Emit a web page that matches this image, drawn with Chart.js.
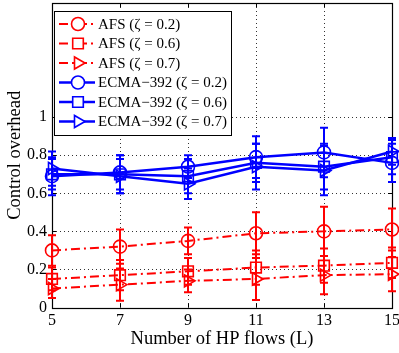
<!DOCTYPE html>
<html>
<head>
<meta charset="utf-8">
<script src="https://cdn.jsdelivr.net/npm/chart.js@4.4.1/dist/chart.umd.min.js"></script>
<style>
  html, body { margin: 0; padding: 0; background: #fff; }
  #wrap { width: 399px; height: 353px; }
</style>
</head>
<body>
<div id="wrap"><canvas id="grafico"></canvas></div>
<script>
const xs = [5, 7, 9, 11, 13, 15]
const yTicks = [0, 0.2, 0.4, 0.6, 0.8, 1]

// valores medios
const afs02 = [0.30, 0.32, 0.35, 0.39, 0.40, 0.41]
const afs06 = [0.15, 0.17, 0.19, 0.21, 0.22, 0.235]
const afs07 = [0.10, 0.12, 0.14, 0.15, 0.17, 0.175]
const ecma02 = [0.69, 0.71, 0.74, 0.79, 0.815, 0.76]
const ecma06 = [0.70, 0.70, 0.69, 0.76, 0.74, 0.79]
const ecma07 = [0.73, 0.69, 0.65, 0.74, 0.72, 0.82]

// meia largura das barras de erro
const afs02Err = [0.08, 0.09, 0.07, 0.11, 0.13, 0.11]
const afs06Err = [0.06, 0.08, 0.07, 0.09, 0.09, 0.08]
const afs07Err = [0.05, 0.085, 0.06, 0.11, 0.10, 0.09]
const ecma02Err = [0.10, 0.09, 0.06, 0.11, 0.13, 0.10]
const ecma06Err = [0.08, 0.10, 0.09, 0.10, 0.12, 0.09]
const ecma07Err = [0.09, 0.09, 0.08, 0.12, 0.13, 0.07]

const labels = ['AFS (ζ = 0.2)', 'AFS (ζ = 0.6)', 'AFS (ζ = 0.7)',
  'ECMA\u2212392 (ζ = 0.2)', 'ECMA\u2212392 (ζ = 0.6)', 'ECMA\u2212392 (ζ = 0.7)']

const RED = '#ff0000'
const BLUE = '#0000ff'
const FONT = '"Liberation Serif", "DejaVu Serif", serif'
const dashDot = [9, 4, 2, 4]

function serie(label, vals, errs, color, shape, radius, dash) {
  return {
    label: label,
    data: xs.map((x, i) => ({ x: x, y: vals[i] })),
    errs: errs,
    borderColor: color,
    backgroundColor: 'rgba(0,0,0,0)',
    borderWidth: dash ? 2 : 2.5,
    borderDash: dash || [],
    pointStyle: shape,
    pointRotation: shape === 'triangle' ? 90 : 0,
    pointRadius: radius,
    pointBorderWidth: 1.6,
    pointBorderColor: color,
    pointBackgroundColor: 'rgba(0,0,0,0)',
    tension: 0,
    clip: false
  }
}

const datasets = [
  serie(labels[0], afs02, afs02Err, RED, 'circle', 6.5, dashDot),
  serie(labels[1], afs06, afs06Err, RED, 'rect', 7.5, dashDot),
  serie(labels[2], afs07, afs07Err, RED, 'triangle', 7, dashDot),
  serie(labels[3], ecma02, ecma02Err, BLUE, 'circle', 6.5, null),
  serie(labels[4], ecma06, ecma06Err, BLUE, 'rect', 7.5, null),
  serie(labels[5], ecma07, ecma07Err, BLUE, 'triangle', 7, null)
]

// grade pontilhada, moldura e ticks internos (estilo MATLAB)
const moldura = {
  id: 'moldura',
  beforeDatasetsDraw(chart) {
    const { ctx, chartArea: a, scales } = chart
    ctx.save()
    ctx.strokeStyle = '#333'
    ctx.lineWidth = 1
    ctx.setLineDash([1, 3])
    xs.forEach(v => {
      const px = Math.round(scales.x.getPixelForValue(v)) + 0.5
      ctx.beginPath(); ctx.moveTo(px, a.top); ctx.lineTo(px, a.bottom); ctx.stroke()
    })
    yTicks.forEach(v => {
      const py = Math.round(scales.y.getPixelForValue(v)) + 0.5
      ctx.beginPath(); ctx.moveTo(a.left, py); ctx.lineTo(a.right, py); ctx.stroke()
    })
    ctx.setLineDash([])
    ctx.strokeStyle = '#000'
    const L = 4
    xs.forEach(v => {
      const px = Math.round(scales.x.getPixelForValue(v)) + 0.5
      ctx.beginPath()
      ctx.moveTo(px, a.bottom); ctx.lineTo(px, a.bottom - L)
      ctx.moveTo(px, a.top); ctx.lineTo(px, a.top + L)
      ctx.stroke()
    })
    yTicks.forEach(v => {
      const py = Math.round(scales.y.getPixelForValue(v)) + 0.5
      ctx.beginPath()
      ctx.moveTo(a.left, py); ctx.lineTo(a.left + L, py)
      ctx.moveTo(a.right, py); ctx.lineTo(a.right - L, py)
      ctx.stroke()
    })
    ctx.lineWidth = 1.2
    ctx.strokeRect(Math.round(a.left) + 0.5, Math.round(a.top) + 0.5,
      Math.round(a.right - a.left), Math.round(a.bottom - a.top))
    ctx.restore()
  }
}

// barras de erro
const barrasErro = {
  id: 'barrasErro',
  beforeDatasetsDraw(chart) {
    const { ctx, scales } = chart
    ctx.save()
    ctx.lineWidth = 2
    ctx.setLineDash([])
    chart.data.datasets.forEach(ds => {
      ctx.strokeStyle = ds.borderColor
      ds.data.forEach((p, i) => {
        const px = scales.x.getPixelForValue(p.x)
        const top = scales.y.getPixelForValue(p.y + ds.errs[i])
        const bot = scales.y.getPixelForValue(Math.max(0, p.y - ds.errs[i]))
        ctx.beginPath()
        ctx.moveTo(px, top); ctx.lineTo(px, bot)
        ctx.moveTo(px - 4, top); ctx.lineTo(px + 4, top)
        ctx.moveTo(px - 4, bot); ctx.lineTo(px + 4, bot)
        ctx.stroke()
      })
    })
    ctx.restore()
  }
}

// legenda dentro do grafico
const legenda = {
  id: 'legenda',
  afterDraw(chart) {
    const { ctx, chartArea: a } = chart
    const x0 = a.left + 2, y0 = a.top + 8, w = 177, h = 124
    ctx.save()
    ctx.fillStyle = '#fff'
    ctx.fillRect(x0, y0, w, h)
    ctx.strokeStyle = '#000'
    ctx.lineWidth = 1
    ctx.setLineDash([])
    ctx.strokeRect(x0 + 0.5, y0 + 0.5, w, h)
    chart.data.datasets.forEach((ds, i) => {
      const yy = y0 + 13 + i * 19.5
      ctx.strokeStyle = ds.borderColor
      ctx.lineWidth = ds.borderWidth
      ctx.setLineDash(ds.borderDash)
      ctx.beginPath(); ctx.moveTo(x0 + 5, yy); ctx.lineTo(x0 + 41, yy); ctx.stroke()
      ctx.setLineDash([])
      ctx.lineWidth = ds.pointBorderWidth
      ctx.fillStyle = '#fff'
      Chart.helpers.drawPoint(ctx, {
        pointStyle: ds.pointStyle, rotation: ds.pointRotation,
        radius: ds.pointRadius, borderWidth: ds.pointBorderWidth
      }, x0 + 24, yy)
      ctx.fillStyle = '#000'
      ctx.font = '15px ' + FONT
      ctx.textBaseline = 'middle'
      ctx.fillText(ds.label, x0 + 44, yy + 1)
    })
    ctx.restore()
  }
}

new Chart(document.getElementById('grafico'), {
  type: 'line',
  data: { datasets: datasets },
  options: {
    responsive: true,
    maintainAspectRatio: false,
    animation: false,
    layout: { autoPadding: false, padding: { top: 3, right: 7, left: 0, bottom: 0 } },
    plugins: { legend: { display: false }, tooltip: { enabled: false } },
    scales: {
      x: {
        type: 'linear', min: 5, max: 15,
        afterBuildTicks: s => { s.ticks = xs.map(v => ({ value: v })) },
        afterFit: s => { s.height = 45.5; s.paddingLeft = 0; s.paddingRight = 0; s.paddingTop = 0; s.paddingBottom = 0 },
        grid: { display: false, drawTicks: false, tickLength: 0 },
        border: { display: false },
        ticks: { color: '#000', font: { family: FONT, size: 16 }, padding: 4 },
        title: { display: true, text: 'Number of HP flows (L)', color: '#000',
          font: { family: FONT, size: 18.5 }, padding: { top: 0, bottom: 3 } }
      },
      y: {
        type: 'linear', min: 0, max: 1.6,
        afterBuildTicks: s => { s.ticks = yTicks.map(v => ({ value: v })) },
        afterFit: s => { s.width = 52; s.paddingLeft = 0; s.paddingRight = 0; s.paddingTop = 0; s.paddingBottom = 0 },
        grid: { display: false, drawTicks: false, tickLength: 0 },
        border: { display: false },
        ticks: { color: '#000', font: { family: FONT, size: 16 }, padding: 5,
          callback: v => String(Math.round(v * 10) / 10) },
        title: { display: true, text: 'Control overhead', color: '#000',
          font: { family: FONT, size: 18.5 }, padding: { top: 4, bottom: 0 } }
      }
    }
  },
  plugins: [moldura, barrasErro, legenda]
})
</script>
</body>
</html>
